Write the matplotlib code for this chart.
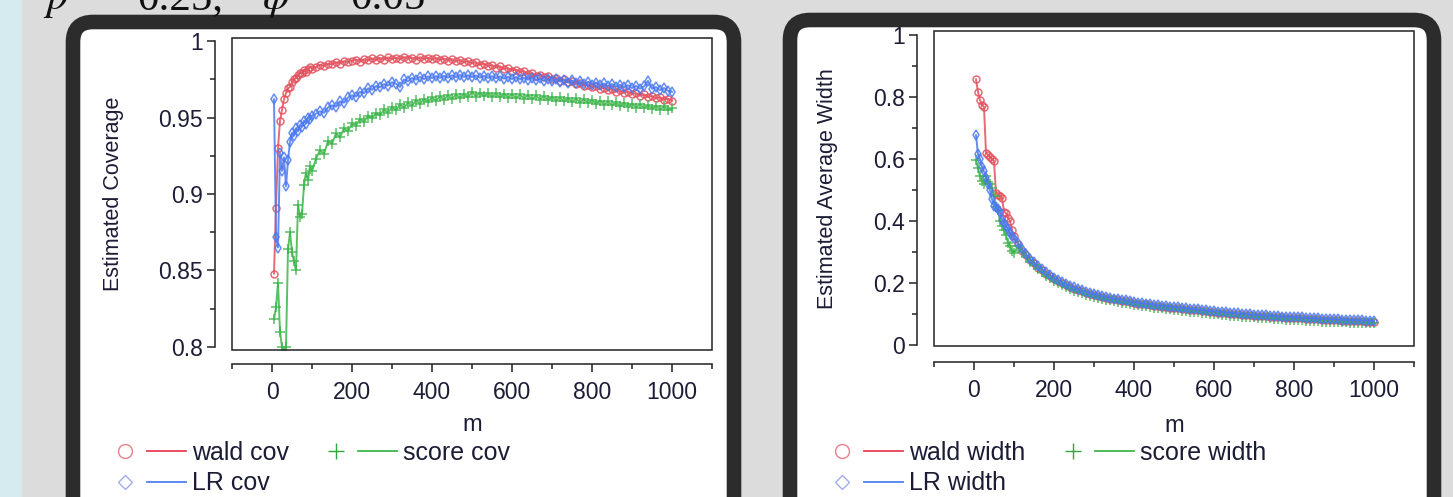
import matplotlib
matplotlib.use("Agg")
import matplotlib.pyplot as plt
from matplotlib.lines import Line2D
from matplotlib.patches import FancyBboxPatch, Rectangle
from matplotlib.legend_handler import HandlerBase

plt.rcParams['font.family'] = ['Liberation Sans', 'DejaVu Sans']
plt.rcParams['mathtext.fontset'] = 'stix'

W, H = 1453, 497

# ---- data ----
m = list(range(5, 101, 5)) + list(range(110, 1001, 10))

wald_cov = [
    0.848, 0.891, 0.930, 0.948, 0.955, 0.962, 0.966, 0.969, 0.970, 0.973,
    0.975, 0.976, 0.978, 0.979, 0.979, 0.981, 0.980, 0.982, 0.983, 0.982,
    0.9830, 0.9846, 0.9836, 0.9852, 0.9848, 0.9862, 0.9853, 0.9869, 0.9861, 0.9871,
    0.9879, 0.9865, 0.9881, 0.9873, 0.9886, 0.9875, 0.9889, 0.9879, 0.9893, 0.9883,
    0.9891, 0.9881, 0.9895, 0.9885, 0.9892, 0.9879, 0.9894, 0.9883, 0.9891, 0.9881,
    0.9889, 0.9877, 0.9885, 0.9872, 0.9881, 0.9867, 0.9876, 0.9861, 0.9869, 0.9854,
    0.9861, 0.9845, 0.9853, 0.9837, 0.9843, 0.9827, 0.9835, 0.9817, 0.9823, 0.9807,
    0.9813, 0.9797, 0.9803, 0.9785, 0.9791, 0.9773, 0.9781, 0.9763, 0.9769, 0.9754,
    0.9759, 0.9741, 0.9749, 0.9731, 0.9737, 0.9719, 0.9727, 0.9709, 0.9715, 0.9699,
    0.9705, 0.9687, 0.9695, 0.9679, 0.9685, 0.9669, 0.9677, 0.9661, 0.9669, 0.9653,
    0.9659, 0.9643, 0.9651, 0.9635, 0.9641, 0.9625, 0.9633, 0.9617, 0.9623, 0.9610,
]
lr_cov = [
    0.962, 0.872, 0.865, 0.927, 0.915, 0.924, 0.905, 0.922, 0.934, 0.940,
    0.938, 0.943, 0.941, 0.945, 0.944, 0.948, 0.946, 0.950, 0.949, 0.951,
    0.9525, 0.9541, 0.9531, 0.9566, 0.9580, 0.9571, 0.9606, 0.9597, 0.9631, 0.9645,
    0.9637, 0.9669, 0.9659, 0.9691, 0.9681, 0.9706, 0.9697, 0.9719, 0.9709, 0.9731,
    0.9721, 0.9700, 0.9749, 0.9737, 0.9759, 0.9747, 0.9766, 0.9751, 0.9769, 0.9757,
    0.9771, 0.9759, 0.9773, 0.9761, 0.9776, 0.9763, 0.9779, 0.9765, 0.9777, 0.9764,
    0.9775, 0.9761, 0.9773, 0.9759, 0.9771, 0.9757, 0.9769, 0.9754, 0.9767, 0.9751,
    0.9765, 0.9749, 0.9761, 0.9747, 0.9759, 0.9743, 0.9756, 0.9741, 0.9753, 0.9737,
    0.9751, 0.9735, 0.9747, 0.9729, 0.9743, 0.9725, 0.9737, 0.9719, 0.9733, 0.9715,
    0.9729, 0.9711, 0.9723, 0.9705, 0.9719, 0.9701, 0.9715, 0.9697, 0.9711, 0.9693,
    0.9707, 0.9689, 0.9703, 0.9740, 0.9688, 0.9699, 0.9679, 0.9693, 0.9675, 0.9668,
]
score_cov = [
    0.818, 0.826, 0.842, 0.810, 0.800, 0.796, 0.800, 0.864, 0.875, 0.862,
    0.856, 0.850, 0.893, 0.885, 0.887, 0.906, 0.914, 0.909, 0.918, 0.915,
    0.9230, 0.9286, 0.9261, 0.9346, 0.9329, 0.9396, 0.9371, 0.9431, 0.9409, 0.9463,
    0.9447, 0.9491, 0.9471, 0.9513, 0.9494, 0.9531, 0.9514, 0.9553, 0.9531, 0.9571,
    0.9547, 0.9586, 0.9564, 0.9599, 0.9577, 0.9613, 0.9589, 0.9623, 0.9601, 0.9631,
    0.9609, 0.9639, 0.9617, 0.9646, 0.9621, 0.9651, 0.9627, 0.9656, 0.9631, 0.9670,
    0.9637, 0.9663, 0.9639, 0.9661, 0.9635, 0.9659, 0.9631, 0.9656, 0.9629, 0.9653,
    0.9627, 0.9651, 0.9623, 0.9647, 0.9619, 0.9645, 0.9617, 0.9641, 0.9613, 0.9637,
    0.9609, 0.9633, 0.9605, 0.9629, 0.9601, 0.9625, 0.9597, 0.9621, 0.9593, 0.9617,
    0.9587, 0.9611, 0.9583, 0.9605, 0.9579, 0.9601, 0.9573, 0.9597, 0.9569, 0.9591,
    0.9565, 0.9587, 0.9561, 0.9581, 0.9557, 0.9577, 0.9551, 0.9573, 0.9549, 0.9560,
]

wald_width = [
    0.857, 0.816, 0.790, 0.775, 0.768, 0.620, 0.613, 0.607, 0.600, 0.593,
    0.490, 0.485, 0.480, 0.475, 0.430, 0.425, 0.410, 0.400, 0.372, 0.352,
    0.326, 0.305, 0.290, 0.274, 0.264, 0.250, 0.242, 0.230, 0.222, 0.212,
    0.206, 0.199, 0.193, 0.187, 0.182, 0.177, 0.173, 0.169, 0.165, 0.161,
    0.158, 0.155, 0.152, 0.150, 0.147, 0.145, 0.143, 0.141, 0.138, 0.136,
    0.134, 0.132, 0.131, 0.129, 0.127, 0.126, 0.124, 0.123, 0.121, 0.120,
    0.119, 0.117, 0.116, 0.114, 0.113, 0.112, 0.110, 0.109, 0.107, 0.106,
    0.105, 0.104, 0.103, 0.101, 0.100, 0.099, 0.098, 0.097, 0.096, 0.095,
    0.094, 0.093, 0.093, 0.092, 0.091, 0.090, 0.089, 0.088, 0.088, 0.087,
    0.086, 0.086, 0.085, 0.084, 0.083, 0.083, 0.082, 0.082, 0.081, 0.080,
    0.080, 0.079, 0.079, 0.078, 0.078, 0.077, 0.077, 0.076, 0.076, 0.075,
]
lr_width = [
    0.677, 0.615, 0.600, 0.575, 0.560, 0.540, 0.520, 0.500, 0.470, 0.450,
    0.445, 0.440, 0.430, 0.405, 0.395, 0.385, 0.375, 0.360, 0.352, 0.345,
    0.330, 0.310, 0.294, 0.279, 0.268, 0.255, 0.246, 0.235, 0.226, 0.217,
    0.210, 0.203, 0.197, 0.191, 0.186, 0.181, 0.177, 0.172, 0.169, 0.165,
    0.162, 0.158, 0.156, 0.153, 0.150, 0.148, 0.146, 0.144, 0.141, 0.139,
    0.137, 0.135, 0.134, 0.132, 0.130, 0.129, 0.127, 0.126, 0.124, 0.123,
    0.122, 0.120, 0.119, 0.117, 0.116, 0.115, 0.113, 0.112, 0.110, 0.109,
    0.108, 0.107, 0.106, 0.104, 0.103, 0.102, 0.101, 0.100, 0.099, 0.098,
    0.097, 0.096, 0.096, 0.095, 0.094, 0.093, 0.092, 0.091, 0.091, 0.090,
    0.089, 0.089, 0.088, 0.087, 0.086, 0.086, 0.085, 0.085, 0.084, 0.083,
    0.083, 0.082, 0.082, 0.081, 0.081, 0.080, 0.080, 0.079, 0.079, 0.078,
]
score_width = [
    0.597, 0.570, 0.545, 0.530, 0.520, 0.545, 0.525, 0.520, 0.505, 0.480,
    0.445, 0.435, 0.400, 0.385, 0.370, 0.355, 0.330, 0.318, 0.305, 0.298,
    0.318, 0.299, 0.283, 0.268, 0.257, 0.244, 0.235, 0.224, 0.215, 0.206,
    0.199, 0.193, 0.187, 0.181, 0.176, 0.171, 0.167, 0.163, 0.159, 0.155,
    0.152, 0.149, 0.146, 0.144, 0.141, 0.139, 0.137, 0.135, 0.132, 0.130,
    0.128, 0.126, 0.125, 0.123, 0.121, 0.120, 0.118, 0.117, 0.115, 0.114,
    0.113, 0.111, 0.110, 0.108, 0.107, 0.106, 0.104, 0.103, 0.101, 0.100,
    0.099, 0.098, 0.097, 0.095, 0.094, 0.093, 0.092, 0.091, 0.090, 0.089,
    0.088, 0.087, 0.087, 0.086, 0.085, 0.084, 0.083, 0.082, 0.082, 0.081,
    0.080, 0.080, 0.079, 0.078, 0.077, 0.077, 0.076, 0.076, 0.075, 0.074,
    0.074, 0.073, 0.073, 0.072, 0.072, 0.071, 0.071, 0.070, 0.070, 0.070,
]

x_ticks = [0, 200, 400, 600, 800, 1000]
x_ticklabels = ["0", "200", "400", "600", "800", "1000"]
cov_ticks = [0.8, 0.85, 0.9, 0.95, 1.0]
cov_ticklabels = ["0.8", "0.85", "0.9", "0.95", "1"]
width_ticks = [0, 0.2, 0.4, 0.6, 0.8, 1.0]
width_ticklabels = ["0", "0.2", "0.4", "0.6", "0.8", "1"]
cov_labels = ["wald cov", "LR cov", "score cov"]
width_labels = ["wald width", "LR width", "score width"]

RED, BLUE, GREEN = '#e3505d', '#4a78ef', '#3cb54a'
TXT = '#1c1c36'


class MarkerLineHandler(HandlerBase):
    # legend key: marker on the left, then a short line
    def create_artists(self, legend, orig, xdescent, ydescent, width, height, fontsize, trans):
        yc = height / 2 - ydescent
        x0 = -xdescent
        mk = Line2D([x0 + 0.09 * width], [yc], linestyle='none', marker=orig.get_marker(),
                    markersize=orig.get_markersize(), mec=orig.get_markeredgecolor(),
                    mfc='none', mew=1.0, transform=trans)
        ln = Line2D([x0 + 0.42 * width, x0 + width], [yc, yc], color=orig.get_color(),
                    lw=1.3, transform=trans)
        return [mk, ln]


def pbox(x0, y0, x1, y1):
    # rectangle in pixels (top-left origin) -> inches for dpi_scale_trans
    return x0 / 100, (H - y1) / 100, (x1 - x0) / 100, (y1 - y0) / 100


fig = plt.figure(figsize=(W / 100, H / 100), dpi=100, facecolor='#dcdcdc')
fig.add_artist(Rectangle((0, 0), 0.22, H / 100, transform=fig.dpi_scale_trans,
                         fc='#d6ebef', ec='none', zorder=-3))

for (x0, y0, x1, y1) in [(73, 22, 734, 530), (790, 20, 1434, 530)]:
    bx, by, bw, bh = pbox(x0, y0, x1, y1)
    fig.add_artist(FancyBboxPatch((bx, by), bw, bh, boxstyle='round,pad=0,rounding_size=0.2',
                                  transform=fig.dpi_scale_trans, fc='white', ec='#2c2c2c',
                                  lw=10.5, zorder=-2))

# title fragment cut off at the top edge
for xp, s in [(43, "$p$"), (90, "="), (137, "0.25,"), (262, r"$\varphi$"), (307, "="), (350, "0.05")]:
    fig.text(xp / W, 1 - 9 / H, s, fontsize=31, family='Liberation Serif', color='#111111',
             va='baseline', ha='left')


def setup(ax, ylim, yticks, yticklabels, minor_y, ylabel, out_left, out_bottom, ylab_x, xlab_y):
    ax.set_xlim(-100, 1100)
    ax.set_ylim(*ylim)
    ax.spines['top'].set_visible(False)
    ax.spines['right'].set_visible(False)
    ax.spines['left'].set_position(('outward', out_left))
    ax.spines['bottom'].set_position(('outward', out_bottom))
    ax.spines['left'].set_bounds(yticks[0], yticks[-1])
    for sp in ['left', 'bottom']:
        ax.spines[sp].set_linewidth(1.1)
        ax.spines[sp].set_color('#222222')
    ax.add_patch(Rectangle((0, 0), 1, 1, transform=ax.transAxes, fill=False,
                           ec='#222222', lw=1.1, clip_on=False, zorder=5))
    ax.set_xticks(x_ticks)
    ax.set_xticklabels(x_ticklabels)
    ax.set_xticks([-100, 100, 300, 500, 700, 900, 1100], minor=True)
    ax.set_yticks(yticks)
    ax.set_yticklabels(yticklabels)
    ax.set_yticks(minor_y, minor=True)
    ax.tick_params(which='major', direction='out', length=6, width=1.1, color='#222222',
                   labelsize=16.5, labelcolor=TXT)
    ax.tick_params(axis='x', which='major', pad=6)
    ax.tick_params(axis='y', which='major', pad=3)
    ax.tick_params(which='minor', direction='out', length=3.5, width=1.1, color='#222222')
    ax.set_xlabel('m', fontsize=17, color=TXT)
    ax.xaxis.set_label_coords(0.5, xlab_y)
    ax.set_ylabel(ylabel, fontsize=15.5, color=TXT)
    ax.yaxis.set_label_coords(ylab_x, 0.5)


def draw(ax, ys):
    styles = [(RED, 'o', 5.0), (GREEN, '+', 7.5), (BLUE, 'd', 5.0)]
    for y, (c, mk, ms) in zip(ys, styles):
        ax.plot(m, y, color=c, lw=1.4, marker=mk, ms=ms, mfc='none', mec=c, mew=1.1, alpha=0.85)


def legend(ax, labels, x_px, y_px):
    handles = [
        Line2D([], [], color='#e83f52', marker='o', ms=10, mec='#e6808c'),
        Line2D([], [], color='#4f7ff2', marker='D', ms=7.5, mec='#a3acec'),
        Line2D([], [], color='#3cb84a', marker='+', ms=11, mec='#2ea83a'),
    ]
    ax.legend(handles, labels, handler_map={Line2D: MarkerLineHandler()}, ncol=2,
              loc='upper left', bbox_to_anchor=(x_px / W, 1 - y_px / H),
              bbox_transform=fig.transFigure, frameon=False, borderpad=0, borderaxespad=0,
              handlelength=2.68, handletextpad=0.24, columnspacing=1.65, labelspacing=0.26,
              fontsize=18, labelcolor=TXT)


# left panel: coverage
ax1 = fig.add_axes([232 / W, 1 - 350 / H, 480 / W, 312 / H], facecolor='white')
draw(ax1, [wald_cov, score_cov, lr_cov])
setup(ax1, (0.798, 1.002), cov_ticks, cov_ticklabels, [0.825, 0.875, 0.925, 0.975],
      'Estimated Coverage', 12.2, 10, -0.225, -0.205)
legend(ax1, cov_labels, 119, 441)

# right panel: width
ax2 = fig.add_axes([934 / W, 1 - 346 / H, 480 / W, 315 / H], facecolor='white')
draw(ax2, [wald_width, score_width, lr_width])
setup(ax2, (-0.003, 1.013), width_ticks, width_ticklabels, [0.1, 0.3, 0.5, 0.7, 0.9],
      'Estimated Average Width', 12.2, 11.5, -0.2, -0.22)
legend(ax2, width_labels, 836, 441)

fig.savefig('out.png', dpi=100, facecolor=fig.get_facecolor())
